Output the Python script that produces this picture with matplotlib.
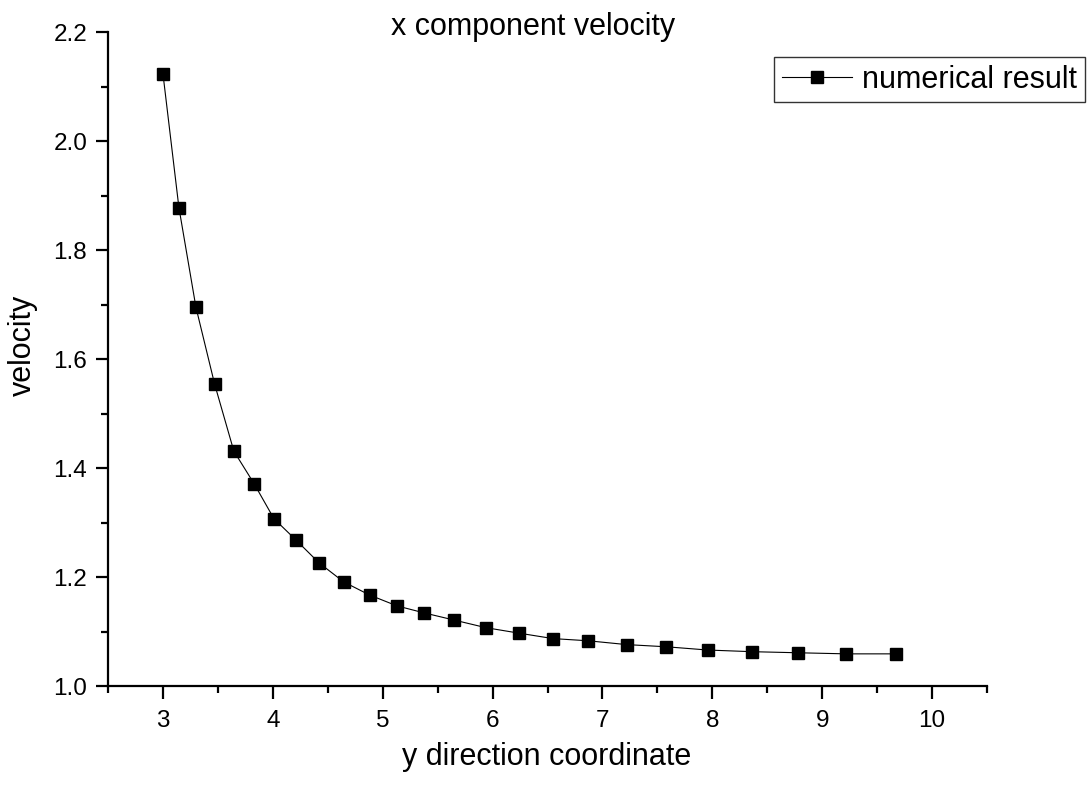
import matplotlib
matplotlib.use("Agg")
import matplotlib.pyplot as plt
from matplotlib.ticker import MultipleLocator

plt.rcParams['font.family'] = ['Liberation Sans', 'DejaVu Sans']

# sampled velocity along the y direction
y_coord = [3.0, 3.145, 3.30, 3.47, 3.645, 3.83, 4.01, 4.21, 4.42, 4.645,
           4.88, 5.13, 5.38, 5.65, 5.94, 6.24, 6.55, 6.87, 7.22, 7.58,
           7.96, 8.36, 8.78, 9.22, 9.67]
velocity = [2.123, 1.878, 1.695, 1.554, 1.431, 1.371, 1.307, 1.268, 1.226, 1.191,
            1.167, 1.147, 1.134, 1.121, 1.107, 1.097, 1.087, 1.083, 1.076, 1.072,
            1.066, 1.063, 1.061, 1.059, 1.059]

fig = plt.figure(figsize=(10.88, 7.85), dpi=100)
ax = fig.add_axes([0.0993, 0.1261, 0.8079, 0.8331])

line, = ax.plot(y_coord, velocity, color='black', linewidth=0.8,
                marker='s', markersize=8.6, markerfacecolor='black',
                markeredgecolor='black', label='numerical result')

ax.set_xlim(2.5, 10.5)
ax.set_ylim(1.0, 2.2)
ax.xaxis.set_major_locator(MultipleLocator(1))
ax.xaxis.set_minor_locator(MultipleLocator(0.5))
ax.yaxis.set_major_locator(MultipleLocator(0.2))
ax.yaxis.set_minor_locator(MultipleLocator(0.1))
ax.yaxis.set_major_formatter(plt.FormatStrFormatter('%.1f'))

for side in ['top', 'right']:
    ax.spines[side].set_visible(False)
for side in ['left', 'bottom']:
    ax.spines[side].set_linewidth(1.6)

ax.tick_params(which='major', direction='out', length=9, width=1.6, labelsize=17.5)
ax.tick_params(which='minor', direction='out', length=5, width=1.6)
ax.tick_params(axis='x', which='major', pad=8)
ax.tick_params(axis='y', which='major', pad=6)

fig.text(0.490, 1 - 27 / 785, 'x component velocity', ha='center', va='center', fontsize=22)
fig.text(547 / 1088, 1 - 757 / 785, 'y direction coordinate', ha='center', va='center', fontsize=22)
fig.text(23 / 1088, 1 - 345 / 785, 'velocity', ha='center', va='center', rotation=90, fontsize=22)

leg = fig.legend(handles=[line], loc='upper right',
                 bbox_to_anchor=(1085 / 1088, 1 - 57 / 785),
                 fontsize=22, frameon=True, fancybox=False, borderpad=0.25,
                 handlelength=2.3, handletextpad=0.33, borderaxespad=0)
leg.get_frame().set_edgecolor('black')
leg.get_frame().set_linewidth(1.0)

fig.savefig('out.png', dpi=100)
